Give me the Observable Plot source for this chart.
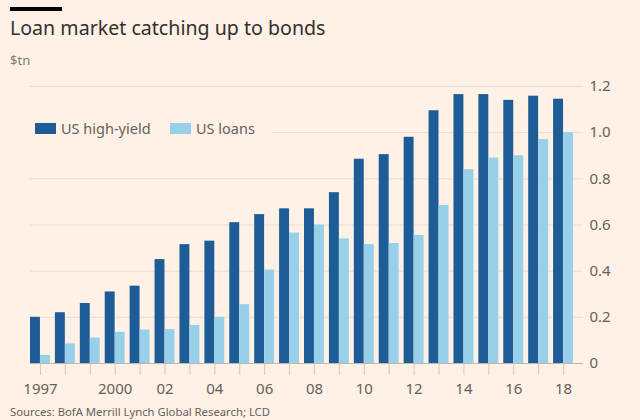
<!DOCTYPE html>
<html>
<head>
<meta charset="utf-8">
<script src="https://cdn.jsdelivr.net/npm/d3@7"></script>
<script src="https://cdn.jsdelivr.net/npm/@observablehq/plot@0.6"></script>
<style>
  html, body { margin: 0; padding: 0; background: #fff1e5; }
  #wrap { position: relative; width: 640px; height: 420px; overflow: hidden; background: #fff1e5; font-family: "Noto Sans", sans-serif; }
  .abs { position: absolute; white-space: nowrap; }
  #bar { left: 10px; top: 7px; width: 52px; height: 4px; background: #000; }
  #title { left: 10px; top: 16px; font-size: 19.6px; line-height: 24px; color: #33302e; }
  #unit { left: 10px; top: 52px; font-size: 13px; line-height: 16px; color: #807973; }
  #chart { left: 0; top: 70px; }
  #legend { left: 30px; top: 117px; width: 242px; height: 24px; background: #fff1e5; }
  .sw { position: absolute; top: 6px; width: 21px; height: 11px; }
  .lt { position: absolute; top: 2px; font-size: 14.5px; line-height: 18px; color: #66605c; }
  #source { left: 10px; top: 405px; font-size: 11.3px; line-height: 14px; color: #66605c; }
  #chart g[aria-label^="x-axis"] line, #chart g[aria-label^="x-axis"] path { stroke: #d4c8bd; }
</style>
</head>
<body>
<div id="wrap">
  <div class="abs" id="bar"></div>
  <div class="abs" id="title">Loan market catching up to bonds</div>
  <div class="abs" id="unit">$tn</div>
  <div class="abs" id="chart"></div>
  <div class="abs" id="legend"></div>
  <div class="abs" id="source">Sources: BofA Merrill Lynch Global Research; LCD</div>
</div>
<script>
const years = [1997,1998,1999,2000,2001,2002,2003,2004,2005,2006,2007,2008,2009,2010,2011,2012,2013,2014,2015,2016,2017,2018];
const usHighYield = [0.20,0.22,0.26,0.31,0.335,0.45,0.515,0.53,0.61,0.645,0.67,0.67,0.74,0.885,0.905,0.98,1.095,1.165,1.165,1.14,1.158,1.145];
const usLoans = [0.035,0.085,0.11,0.135,0.145,0.147,0.165,0.20,0.255,0.405,0.565,0.60,0.54,0.515,0.52,0.555,0.685,0.84,0.89,0.90,0.97,1.0];
const seriesNames = ["US high-yield", "US loans"];
const seriesColors = ["#1d5c97", "#98cfe9"];
const xTickYears = [1997,2000,2002,2004,2006,2008,2010,2012,2014,2016,2018];
const xTickLabels = ["1997","2000","02","04","06","08","10","12","14","16","18"];
const yTicks = [0,0.2,0.4,0.6,0.8,1.0,1.2];

const data = years.map((y, i) => ({year: y, hy: usHighYield[i], loans: usLoans[i]}));
const W = 640, H = 333, mL = 30, mR = 57, mT = 16, mB = 40;
const bandHalf = 10;

const chart = Plot.plot({
  width: W, height: H,
  marginLeft: mL, marginRight: mR, marginTop: mT, marginBottom: mB,
  style: {fontFamily: "Noto Sans", fontSize: "15px", color: "#66605c", background: "transparent"},
  x: {type: "band", domain: years, padding: 0.2, align: 0, round: false, axis: "bottom", label: null,
      tickSize: 12, tickPadding: 8,
      tickFormat: d => { const k = xTickYears.indexOf(d); return k >= 0 ? xTickLabels[k] : ""; }},
  y: {domain: [0, 1.2], axis: "right", label: null, ticks: yTicks, tickSize: 0, tickPadding: 6,
      tickFormat: d => d === 0 ? "0" : d.toFixed(1)},
  marks: [
    Plot.ruleY(yTicks.filter(d => d > 0), {stroke: "#e8dbcf", strokeWidth: 1}),
    Plot.barY(data, {x: "year", y: "hy", fill: seriesColors[0], insetRight: bandHalf}),
    Plot.barY(data, {x: "year", y: "loans", fill: seriesColors[1], insetLeft: bandHalf}),
    Plot.ruleY([0], {stroke: "#c2b7ad", strokeWidth: 1.2})
  ]
});
document.getElementById("chart").appendChild(chart);

const legend = document.getElementById("legend");
const legendX = [[5, 31], [140, 166]];
seriesNames.forEach((name, i) => {
  const sw = document.createElement("div");
  sw.className = "sw";
  sw.style.left = legendX[i][0] + "px";
  sw.style.background = seriesColors[i];
  legend.appendChild(sw);
  const t = document.createElement("div");
  t.className = "lt";
  t.style.left = legendX[i][1] + "px";
  t.textContent = name;
  legend.appendChild(t);
});
</script>
</body>
</html>
